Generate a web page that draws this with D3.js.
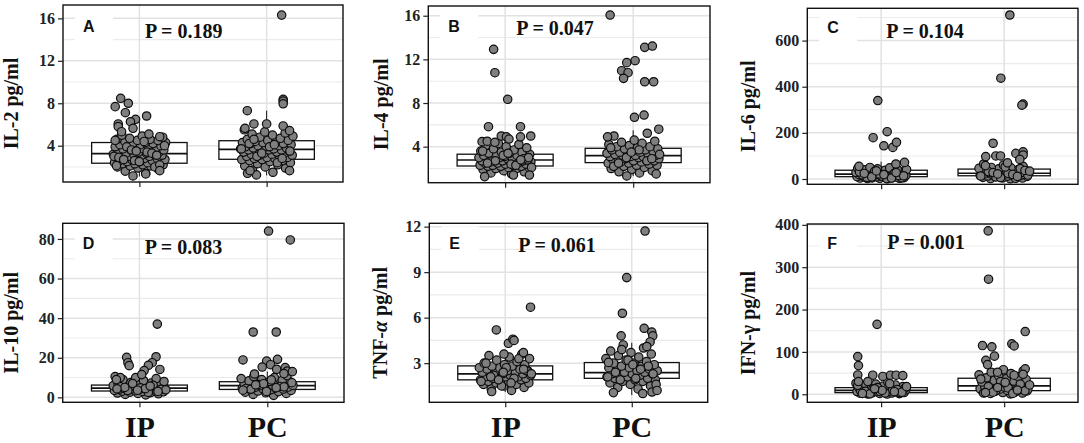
<!DOCTYPE html>
<html><head><meta charset="utf-8">
<script src="https://cdn.jsdelivr.net/npm/d3@7"></script>
<style>body{margin:0;background:#fff;} svg{display:block}</style>
</head><body>
<svg id="chart" width="1084" height="443"></svg>
<script>
// ---------------- DATA ----------------
const categories = ["IP", "PC"];
const panelLetters = ["A", "B", "C", "D", "E", "F"];
const yTitles = ["IL-2 pg/ml", "IL-4 pg/ml", "IL-6 pg/ml", "IL-10 pg/ml", "TNF-α pg/ml", "IFN-γ pg/ml"];
const pLabels = ["P = 0.189", "P = 0.047", "P = 0.104", "P = 0.083", "P = 0.061", "P = 0.001"];

const ticksIL2 = [4, 8, 12, 16];
const ticksIL4 = [4, 8, 12, 16];
const ticksIL6 = [0, 200, 400, 600];
const ticksIL10 = [0, 20, 40, 60, 80];
const ticksTNF = [3, 6, 9, 12];
const ticksIFN = [0, 100, 200, 300, 400];

const domainIL2 = [0.58, 17.26];
const domainIL4 = [0.7, 16.89];
const domainIL6 = [-23, 740];
const domainIL10 = [-2.5, 87.9];
const domainTNF = [0.42, 12.22];
const domainIFN = [-19, 402];

// box statistics: [lower whisker, Q1, median, Q3, upper whisker]
const boxIL2_IP = [1.1, 2.35, 3.25, 4.3, 6.7];
const boxIL2_PC = [1.2, 2.72, 3.66, 4.47, 7.3];
const boxIL4_IP = [1.3, 2.23, 2.78, 3.31, 4.9];
const boxIL4_PC = [1.3, 2.54, 3.18, 3.85, 5.5];
const boxIL6_IP = [0, 10, 21, 38, 75];
const boxIL6_PC = [0, 14, 25, 43, 85];
const boxIL10_IP = [1, 3.2, 4.7, 6.2, 10.5];
const boxIL10_PC = [1, 4.0, 5.9, 7.9, 13];
const boxTNF_IP = [1.1, 1.9, 2.29, 2.82, 3.65];
const boxTNF_PC = [0.9, 2.0, 2.38, 3.04, 4.35];
const boxIFN_IP = [0, 3.8, 9, 15.6, 30];
const boxIFN_PC = [0, 8.5, 20, 37.8, 62];

// bulk observations (values)
const il2_IP = [1.4,1.6,1.8,1.9,2.0,2.1,2.1,2.2,2.2,2.3,2.3,2.3,2.4,2.4,2.5,2.5,2.5,2.6,2.6,2.7,2.7,2.8,2.8,2.8,2.9,2.9,3.0,3.0,3.1,3.1,3.1,3.2,3.2,3.2,3.3,3.3,3.4,3.4,3.5,3.5,3.6,3.6,3.7,3.7,3.8,3.8,3.9,3.9,4.0,4.0,4.1,4.1,4.2,4.2,4.3,4.3,4.4,4.5,4.5,4.6,4.6,4.7,4.8,4.9,5.0,2.0,2.6,3.0,3.4,3.9,2.2,2.5,2.9,3.3,3.6,4.0,4.4,2.7,3.1,3.5];
const il2_PC = [1.5,1.7,1.9,2.0,2.1,2.2,2.3,2.4,2.5,2.6,2.6,2.7,2.7,2.8,2.8,2.9,2.9,3.0,3.0,3.1,3.1,3.2,3.2,3.3,3.3,3.4,3.4,3.5,3.5,3.6,3.6,3.6,3.7,3.7,3.7,3.8,3.8,3.9,3.9,4.0,4.0,4.1,4.1,4.2,4.2,4.3,4.3,4.4,4.4,4.5,4.5,4.6,4.7,4.8,4.9,5.0,5.1,5.2,5.3,5.5,2.4,3.0,3.5,3.9,4.2,2.8,3.3,3.7,4.1,4.6];
const il4_IP = [1.5,1.6,1.7,1.8,1.9,2.0,2.0,2.1,2.1,2.2,2.2,2.2,2.3,2.3,2.3,2.4,2.4,2.5,2.5,2.5,2.6,2.6,2.6,2.7,2.7,2.7,2.8,2.8,2.8,2.9,2.9,2.9,3.0,3.0,3.0,3.1,3.1,3.1,3.2,3.2,3.3,3.3,3.4,3.4,3.5,3.5,3.6,3.7,3.8,3.9,4.0,4.1,4.2,4.3,2.1,2.4,2.6,2.9,3.2,3.6,2.3,2.7,3.0,3.4,2.5,2.8];
const il4_PC = [1.6,1.7,1.8,1.9,2.0,2.1,2.2,2.3,2.3,2.4,2.4,2.5,2.5,2.6,2.6,2.7,2.7,2.8,2.8,2.9,2.9,3.0,3.0,3.0,3.1,3.1,3.1,3.2,3.2,3.2,3.3,3.3,3.4,3.4,3.5,3.5,3.6,3.6,3.7,3.7,3.8,3.8,3.9,4.0,4.0,4.1,4.2,4.3,4.4,4.5,4.6,2.2,2.7,3.0,3.3,3.7,2.5,2.9,3.5,3.9];
const il6_IP = [1,2,3,3,4,5,5,6,7,8,8,9,10,10,11,12,13,14,15,15,16,17,18,19,20,20,21,22,23,24,25,26,27,28,29,30,31,32,34,35,36,37,38,40,42,44,46,48,50,5,12,18,25,33,41,2,7,15,22,30,4,9,14,19,24,28,35];
const il6_PC = [1,2,4,5,7,8,10,11,12,13,14,15,16,18,19,20,21,22,23,24,25,26,27,28,30,31,33,35,36,38,40,42,44,46,48,50,55,60,65,3,9,17,24,32,45,6,13,20,28,37,52,58,11,22,34];
const il10_IP = [1.2,1.5,1.8,2.0,2.2,2.4,2.6,2.8,3.0,3.1,3.2,3.3,3.5,3.6,3.8,3.9,4.0,4.1,4.2,4.3,4.4,4.5,4.6,4.7,4.8,4.9,5.0,5.1,5.2,5.3,5.5,5.6,5.8,5.9,6.0,6.2,6.4,6.6,6.9,7.2,7.5,8.0,8.5,9.0,9.5,10.0,10.5,2.5,3.4,4.1,4.8,5.4,6.1,7.0,3.8,4.4,5.0,3.0,3.6,4.3,5.7];
const il10_PC = [1.0,1.5,2.0,2.3,2.6,2.9,3.2,3.5,3.8,4.0,4.2,4.4,4.6,4.8,5.0,5.2,5.4,5.6,5.8,5.9,6.0,6.2,6.4,6.6,6.8,7.0,7.2,7.5,7.8,8.0,8.3,8.6,9.0,9.5,10.0,10.5,11.0,3.0,4.5,5.5,6.5,7.4,8.8,4.1,5.3,6.9,3.6,4.9,6.3];
const tnf_IP = [1.2,1.3,1.4,1.5,1.6,1.6,1.7,1.7,1.8,1.8,1.9,1.9,1.9,2.0,2.0,2.0,2.1,2.1,2.1,2.2,2.2,2.2,2.3,2.3,2.3,2.4,2.4,2.4,2.5,2.5,2.6,2.6,2.7,2.7,2.8,2.8,2.9,2.9,3.0,3.1,3.2,3.3,3.4,3.5,3.6,1.5,1.8,2.0,2.2,2.5,2.7,3.0,3.3,1.9,2.3,1.7,2.1,2.6,2.4];
const tnf_PC = [1.3,1.4,1.5,1.6,1.7,1.8,1.8,1.9,1.9,2.0,2.0,2.1,2.1,2.2,2.2,2.3,2.3,2.3,2.4,2.4,2.5,2.5,2.6,2.6,2.7,2.7,2.8,2.8,2.9,3.0,3.0,3.1,3.2,3.3,3.4,3.5,3.6,3.7,3.8,4.0,4.2,1.6,2.0,2.4,2.8,3.2,2.1,2.6,1.9,2.3,2.9];
const ifn_IP = [0.5,1,1.5,2,2.5,3,3.5,4,4.5,5,5.5,6,6.5,7,7.5,8,8.5,9,9.5,10,10.5,11,12,13,14,15,16,17,18,19,20,22,24,26,28,2,4,6,8,10,12,14,3,7,11,16,21,25,1,5,9,2,6,13,18];
const ifn_PC = [1,2,3,4,5,6,7,8,9,10,11,12,13,14,15,16,17,18,19,20,21,22,23,25,27,29,31,33,35,37,39,41,43,46,49,52,55,58,3,6,9,12,15,18,24,30,36,2,5,8,28,4,10,16,22];

// individually read points: [horizontal offset in category units, value]
const il2_IP_out = [[-0.147,8.47],[-0.087,8.0],[-0.19,7.68],[-0.11,7.11],[-0.03,6.49],[0.057,6.8],[-0.166,6.05],[-0.166,5.8],[-0.07,6.26],[-0.05,5.64],[-0.14,5.32],[0.075,5.1],[0.16,4.85],[-0.19,4.5],[-0.05,1.15],[0.05,1.34],[0.16,1.65],[-0.18,2.12]];
const il2_PC_out = [[0.118,16.31],[0.13,8.37],[0.13,8.2],[0.13,7.95],[-0.152,7.3],[-0.17,5.64],[-0.1,6.05],[0.0,6.05],[0.13,5.86],[0.18,5.42],[-0.15,1.4],[-0.08,1.25],[-0.13,1.65],[0.18,1.65]];
const il4_IP_out = [[-0.09,12.92],[-0.08,10.78],[0.02,8.34],[-0.13,5.83],[0.12,5.83],[-0.18,4.46],[-0.14,4.5],[-0.08,4.4],[-0.03,4.98],[0.01,4.9],[0.03,4.7],[0.12,4.9],[0.2,4.98],[-0.16,1.26],[0.065,1.4],[0.19,1.4]];
const il4_PC_out = [[-0.18,16.06],[0.09,13.1],[0.15,13.22],[-0.05,11.7],[0.015,11.88],[-0.09,10.96],[-0.04,10.78],[-0.075,10.26],[0.09,9.95],[0.16,9.95],[0.01,6.69],[0.085,6.9],[0.2,5.6],[0.11,5.23],[-0.15,4.98],[-0.2,4.9],[-0.05,1.32],[0.18,1.5]];
const il6_IP_out = [[-0.027,340],[-0.065,179],[0.049,205],[0.022,144],[0.095,137],[0.125,159],[0.19,72],[0.12,65],[-0.18,55]];
const il6_PC_out = [[0.046,711],[-0.027,437],[0.154,325],[0.144,320],[-0.09,155],[-0.15,97],[-0.068,100],[-0.03,100],[0.095,111],[0.154,118],[0.154,104],[0.027,70],[0.127,85]];
const il10_IP_out = [[0.14,37],[-0.1,20.2],[-0.09,17.5],[-0.08,16],[0.13,20.5],[0.1,17.5],[0.07,16.2],[0.16,14.1],[0.037,13.5],[0.018,11.5],[-0.15,10],[-0.18,9]];
const il10_PC_out = [[0.01,84],[0.18,79.5],[-0.11,33],[0.07,33],[-0.19,18.9],[0.08,19.2],[-0.005,18.3],[0.026,16.5],[-0.04,15.3],[0.14,15],[0.157,13.3],[0.196,13],[0.073,14.2],[-0.1,11.8],[0.13,12]];
const tnf_IP_out = [[0.2,6.69],[-0.07,5.19],[0.025,4.31],[0.06,4.58],[0.07,4.5],[-0.01,3.6],[0.144,3.7],[-0.107,1.13]];
const tnf_PC_out = [[0.105,11.71],[-0.04,8.64],[-0.074,6.29],[-0.084,4.8],[-0.079,3.9],[0.098,5.3],[0.158,5.05],[0.166,4.8],[0.145,4.4],[0.119,4.1],[-0.184,3.05],[-0.145,1.06],[0.087,1.0],[0.16,1.1],[0.2,1.2]];
const ifn_IP_out = [[-0.033,165],[-0.19,89],[-0.184,67.6],[-0.19,45.6],[-0.068,45],[0.014,42],[0.076,45],[0.122,45],[0.176,44],[-0.108,30],[-0.184,30]];
const ifn_PC_out = [[-0.13,385.8],[-0.127,271.7],[0.171,148],[0.062,119],[0.081,114],[-0.176,115],[-0.1,112],[-0.079,90],[-0.149,80],[-0.135,70],[-0.054,52],[0.171,60],[0.154,47],[0.081,45]];

// ---------------- LAYOUT ----------------
const layout = [
  {l:63,    r:343,   t:5,     b:182,   titleX:18,  pX:82, pY:33, lY:27},
  {l:428.3, r:710,   t:6,     b:182.7, titleX:388, pX:88, pY:29, lY:26},
  {l:807.3, r:1078,  t:8.3,   b:184.3, titleX:755, pX:79, pY:30, lY:25},
  {l:62.7,  r:344,   t:223.3, b:402.3, titleX:18,  pX:82, pY:31, lY:26},
  {l:429.3, r:707.7, t:223.3, b:402.3, titleX:387, pX:89, pY:29, lY:26},
  {l:807.3, r:1078,  t:224,   b:402.3, titleX:755, pX:80, pY:25, lY:25}
];

const panels = [
  {ticks:ticksIL2, domain:domainIL2, box:[boxIL2_IP, boxIL2_PC], bulk:[il2_IP, il2_PC], out:[il2_IP_out, il2_PC_out]},
  {ticks:ticksIL4, domain:domainIL4, box:[boxIL4_IP, boxIL4_PC], bulk:[il4_IP, il4_PC], out:[il4_IP_out, il4_PC_out]},
  {ticks:ticksIL6, domain:domainIL6, box:[boxIL6_IP, boxIL6_PC], bulk:[il6_IP, il6_PC], out:[il6_IP_out, il6_PC_out]},
  {ticks:ticksIL10, domain:domainIL10, box:[boxIL10_IP, boxIL10_PC], bulk:[il10_IP, il10_PC], out:[il10_IP_out, il10_PC_out]},
  {ticks:ticksTNF, domain:domainTNF, box:[boxTNF_IP, boxTNF_PC], bulk:[tnf_IP, tnf_PC], out:[tnf_IP_out, tnf_PC_out]},
  {ticks:ticksIFN, domain:domainIFN, box:[boxIFN_IP, boxIFN_PC], bulk:[ifn_IP, ifn_PC], out:[ifn_IP_out, ifn_PC_out]}
];

const SERIF = "'Liberation Serif','Times New Roman',serif";
const SANS = "'Liberation Sans',Arial,sans-serif";
const svg = d3.select("#chart");

panels.forEach((p, i) => {
  const L = layout[i];
  const g = svg.append("g");
  const x = d3.scalePoint().domain(categories).range([L.l, L.r]).padding(0.6);
  const step = x.step();
  const y = d3.scaleLinear().domain(p.domain).range([L.b, L.t]);

  g.append("rect").attr("x", L.l).attr("y", L.t).attr("width", L.r - L.l).attr("height", L.b - L.t).attr("fill", "#fff");

  // grid
  const tstep = p.ticks[1] - p.ticks[0];
  const minor = [];
  for (let v = p.ticks[0] - tstep / 2; v <= p.domain[1]; v += tstep) if (v >= p.domain[0]) minor.push(v);
  g.selectAll(".mn").data(minor).enter().append("line")
    .attr("x1", L.l).attr("x2", L.r).attr("y1", d => y(d)).attr("y2", d => y(d))
    .attr("stroke", "#ebebeb").attr("stroke-width", 1.1);
  g.selectAll(".mj").data(p.ticks).enter().append("line")
    .attr("x1", L.l).attr("x2", L.r).attr("y1", d => y(d)).attr("y2", d => y(d))
    .attr("stroke", "#e2e2e2").attr("stroke-width", 1.5);
  g.selectAll(".vx").data(categories).enter().append("line")
    .attr("x1", d => x(d)).attr("x2", d => x(d)).attr("y1", L.t).attr("y2", L.b)
    .attr("stroke", "#e2e2e2").attr("stroke-width", 1.5);

  // boxplots
  categories.forEach((c, k) => {
    const s = p.box[k];
    const cx = x(c), hw = step * 0.375;
    g.append("line").attr("x1", cx).attr("x2", cx).attr("y1", y(s[0])).attr("y2", y(s[1])).attr("stroke", "#111").attr("stroke-width", 1);
    g.append("line").attr("x1", cx).attr("x2", cx).attr("y1", y(s[3])).attr("y2", y(s[4])).attr("stroke", "#111").attr("stroke-width", 1);
    g.append("rect").attr("x", cx - hw).attr("y", y(s[3])).attr("width", 2 * hw).attr("height", y(s[1]) - y(s[3]))
      .attr("fill", "#fff").attr("stroke", "#111").attr("stroke-width", 1.3);
    g.append("line").attr("x1", cx - hw).attr("x2", cx + hw).attr("y1", y(s[2])).attr("y2", y(s[2])).attr("stroke", "#111").attr("stroke-width", 1.7);
  });

  // points
  categories.forEach((c, k) => {
    const pts = p.bulk[k].map((v, j) => [(((j + 1) * 0.6180339887) % 1 - 0.5) * 0.42, v]).concat(p.out[k]);
    g.selectAll(".pt" + k).data(pts).enter().append("circle")
      .attr("cx", d => x(c) + d[0] * step).attr("cy", d => y(d[1])).attr("r", 4.2)
      .attr("fill", "#7f7f7f").attr("stroke", "#0d0d0d").attr("stroke-width", 1.2);
  });

  // panel letter with white label background
  g.append("rect").attr("x", L.l + 12).attr("y", L.t + 3).attr("width", 38).attr("height", 35).attr("fill", "#fff");
  g.append("text").attr("x", L.l + 20).attr("y", L.t + L.lY).text(panelLetters[i])
    .attr("font-family", SANS).attr("font-weight", "bold").attr("font-size", 16).attr("fill", "#111");
  g.append("text").attr("x", L.l + L.pX).attr("y", L.t + L.pY).text(pLabels[i])
    .attr("font-family", SERIF).attr("font-weight", "bold").attr("font-size", 20).attr("fill", "#111");

  // border
  g.append("rect").attr("x", L.l).attr("y", L.t).attr("width", L.r - L.l).attr("height", L.b - L.t)
    .attr("fill", "none").attr("stroke", "#111").attr("stroke-width", 1.4);

  // axes
  const ay = g.append("g").attr("transform", `translate(${L.l},0)`)
    .call(d3.axisLeft(y).tickValues(p.ticks).tickSize(5).tickPadding(3).tickFormat(d3.format("d")));
  ay.select(".domain").remove();
  ay.selectAll("line").attr("stroke", "#222").attr("stroke-width", 1.2);
  ay.selectAll("text").attr("font-family", SERIF).attr("font-weight", "bold").attr("font-size", 16).attr("fill", "#222");

  const bottomRow = i >= 3;
  const ax = g.append("g").attr("transform", `translate(0,${L.b})`)
    .call(d3.axisBottom(x).tickSize(5).tickPadding(6));
  ax.select(".domain").remove();
  ax.selectAll("line").attr("stroke", "#222").attr("stroke-width", 1.2);
  if (bottomRow) {
    ax.selectAll("text").attr("font-family", SERIF).attr("font-weight", "bold").attr("font-size", 30).attr("fill", "#111")
      .attr("dy", null).attr("y", 437 - L.b);
  } else {
    ax.selectAll("text").remove();
  }

  // y title
  const ty = (L.t + L.b) / 2 + 10;
  const title = g.append("text").attr("transform", `translate(${L.titleX},${ty}) rotate(-90)`)
    .attr("text-anchor", "middle").attr("font-family", SERIF).attr("font-weight", "bold").attr("font-size", 20).attr("fill", "#111");
  const t = yTitles[i];
  if (t.includes("α")) {
    const parts = t.split("α");
    title.append("tspan").text(parts[0]);
    title.append("tspan").attr("font-style", "italic").text("α");
    title.append("tspan").text(parts[1]);
  } else {
    title.text(t);
  }
});
</script>
</body></html>
